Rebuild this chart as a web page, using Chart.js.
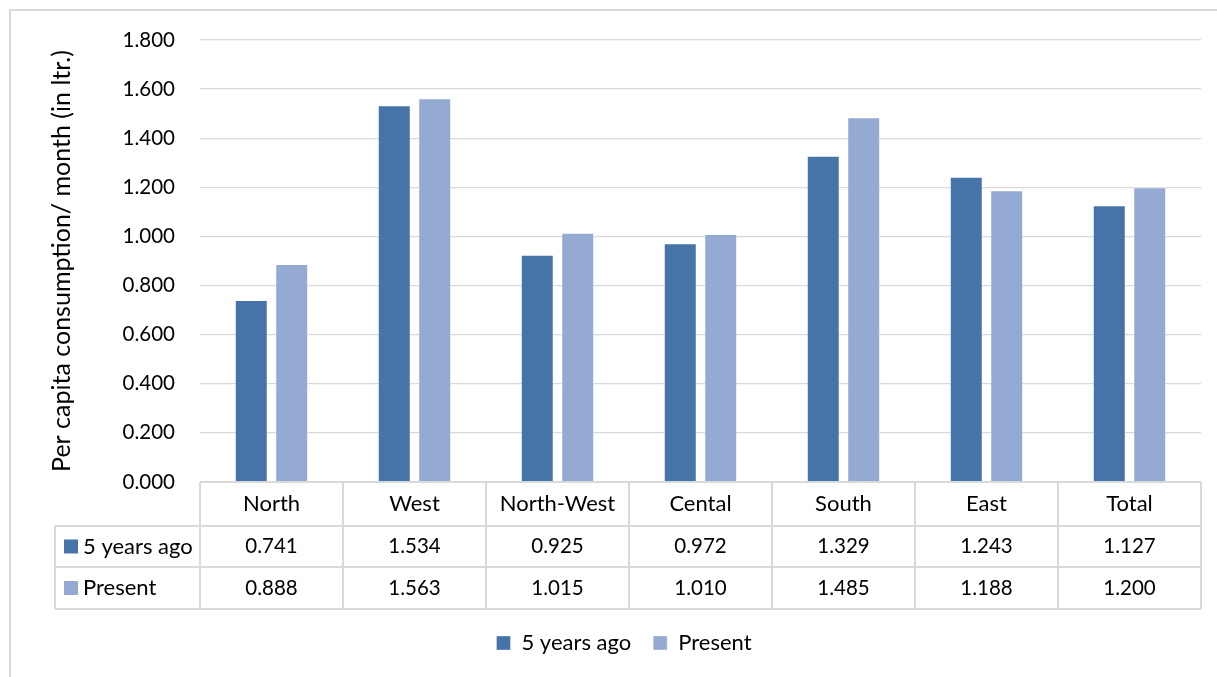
<!DOCTYPE html>
<html>
<head>
<meta charset="utf-8">
<script src="https://cdn.jsdelivr.net/npm/chart.js@4.4.1/dist/chart.umd.min.js"></script>
<style>
  html, body { margin: 0; padding: 0; background: #ffffff; }
  #wrap { width: 1217px; height: 677px; position: relative; }
</style>
</head>
<body>
<div id="wrap"><canvas id="c" width="1217" height="677"></canvas></div>
<script>
// Regions and per capita consumption (litres per month)
const regions = ['North', 'West', 'North-West', 'Cental', 'South', 'East', 'Total'];
const fiveYearsAgo = [0.741, 1.534, 0.925, 0.972, 1.329, 1.243, 1.127];
const present = [0.888, 1.563, 1.015, 1.010, 1.485, 1.188, 1.200];
const seriesNames = ['5 years ago', 'Present'];
const seriesColors = ['#4674A9', '#95AAD2'];
const yTicks = { min: 0, max: 1.8, step: 0.2 };
const yTitle = 'Per capita consumption/ month (in ltr.)';

const FONT = 'Lato, "Open Sans", sans-serif';
const NUM_SIZE = 20.5;   // numbers: axis ticks and table values
const TEXT_SIZE = 22;    // words: region names, series names
const TITLE_SIZE = 25;
const LINE = '#D9D9D9';

// Outer frame drawn behind everything
const framePlugin = {
  id: 'frame',
  beforeDraw(chart) {
    const ctx = chart.ctx;
    ctx.save();
    ctx.strokeStyle = LINE;
    ctx.lineWidth = 2;
    ctx.strokeRect(10, 10, chart.width + 40, chart.height + 40);
    ctx.restore();
  }
};

// Data table under the plot: header row with region names, then one row per series
const tablePlugin = {
  id: 'dataTable',
  afterDraw(chart) {
    const ctx = chart.ctx;
    const x = chart.scales.x;
    const area = chart.chartArea;
    const n = regions.length;
    const colW = (area.right - area.left) / n;
    const top = area.bottom;
    const rowH = [44, 41, 42];
    const r1 = top + rowH[0];
    const r2 = r1 + rowH[1];
    const bottom = r2 + rowH[2];
    const labelLeft = 55;

    ctx.save();
    ctx.strokeStyle = LINE;
    ctx.lineWidth = 2;
    ctx.beginPath();
    // horizontal rules
    ctx.moveTo(area.left, top); ctx.lineTo(area.right, top);
    [r1, r2, bottom].forEach(y => { ctx.moveTo(labelLeft, y); ctx.lineTo(area.right, y); });
    // vertical rules at category boundaries
    for (let i = 0; i <= n; i++) {
      const bx = area.left + i * colW;
      ctx.moveTo(bx, top); ctx.lineTo(bx, bottom);
    }
    ctx.moveTo(labelLeft, r1); ctx.lineTo(labelLeft, bottom);
    ctx.stroke();

    ctx.fillStyle = '#000000';
    ctx.textBaseline = 'middle';
    ctx.textAlign = 'center';
    const rows = [fiveYearsAgo, present];
    regions.forEach((name, i) => {
      const cx = x.getPixelForValue(i);
      ctx.font = TEXT_SIZE + 'px ' + FONT;
      ctx.fillText(name, cx, top + rowH[0] / 2);
      ctx.font = NUM_SIZE + 'px ' + FONT;
      rows.forEach((vals, j) => {
        const cy = j === 0 ? r1 + rowH[1] / 2 : r2 + rowH[2] / 2;
        ctx.fillText(vals[i].toFixed(3), cx, cy);
      });
    });

    // series keys in the label column
    ctx.textAlign = 'left';
    ctx.font = TEXT_SIZE + 'px ' + FONT;
    seriesNames.forEach((name, j) => {
      const cy = j === 0 ? r1 + rowH[1] / 2 : r2 + rowH[2] / 2;
      ctx.fillStyle = seriesColors[j];
      ctx.fillRect(64, cy - 7, 14, 14);
      ctx.fillStyle = '#000000';
      ctx.fillText(name, 83, cy);
    });
    ctx.restore();
  }
};

new Chart(document.getElementById('c'), {
  type: 'bar',
  data: {
    labels: regions,
    datasets: [
      { label: seriesNames[0], data: fiveYearsAgo, backgroundColor: seriesColors[0], borderColor: 'rgba(255,255,255,0.35)', borderWidth: 1 },
      { label: seriesNames[1], data: present, backgroundColor: seriesColors[1], borderColor: 'rgba(255,255,255,0.35)', borderWidth: 1 }
    ]
  },
  options: {
    responsive: false,
    animation: false,
    devicePixelRatio: 1,
    layout: { padding: { left: 47, right: 16, top: 40, bottom: 13 } },
    datasets: { bar: { categoryPercentage: 0.566, barPercentage: 0.815 } },
    scales: {
      x: {
        ticks: { display: false },
        grid: { display: false },
        border: { display: false },
        afterFit(scale) { scale.height = 128; }
      },
      y: {
        min: yTicks.min,
        max: yTicks.max,
        ticks: {
          stepSize: yTicks.step,
          padding: 25,
          color: '#000000',
          font: { family: FONT, size: NUM_SIZE },
          callback: v => Number(v).toFixed(3)
        },
        grid: { color: LINE, lineWidth: 1.3, drawTicks: false },
        border: { display: false },
        title: {
          display: true,
          text: yTitle,
          color: '#000000',
          font: { family: FONT, size: TITLE_SIZE },
          padding: { top: 0, bottom: 0 }
        },
        afterFit(scale) { scale.width = 153; }
      }
    },
    plugins: {
      legend: {
        position: 'bottom',
        labels: {
          boxWidth: 14,
          boxHeight: 14,
          padding: 22,
          color: '#000000',
          font: { family: FONT, size: TEXT_SIZE }
        }
      },
      tooltip: { enabled: false }
    }
  },
  plugins: [framePlugin, tablePlugin]
});
</script>
</body>
</html>
